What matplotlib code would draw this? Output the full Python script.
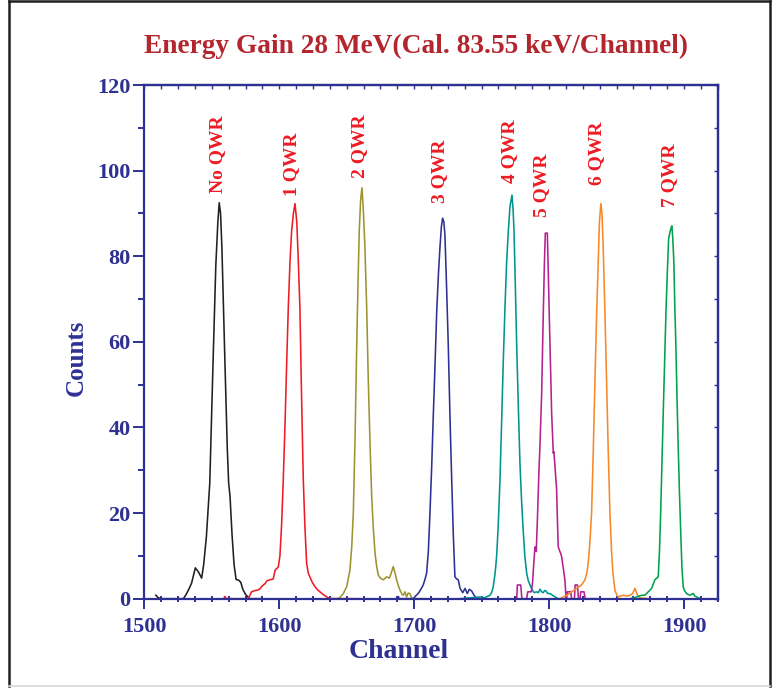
import matplotlib.pyplot as plt
from matplotlib.lines import Line2D
from matplotlib.ticker import MultipleLocator

# spectra: channel / counts pairs for each QWR setting
chNo = [1508.5, 1510, 1512, 1529, 1531, 1533, 1535, 1537.8, 1540, 1542.5, 1544, 1546, 1548.5, 1551,
        1553, 1554.5, 1555.5, 1556.5, 1557.5, 1559.5, 1561.5, 1562.5, 1563.5, 1565, 1566.5, 1568,
        1570, 1571.5, 1573, 1575, 1578, 1587]
cntNo = [0.8, 0.3, 0, 0, 1, 2.2, 3.6, 7.2, 6.3, 4.8, 8, 14.5, 27, 56,
         78, 88, 92.5, 90, 82, 58, 35, 27, 24, 15, 8, 4.5,
         4.3, 3.8, 2.2, 1, 0, 0]

ch1 = [1559, 1559.5, 1561, 1577, 1579.5, 1582, 1584, 1585.7, 1587.5, 1589.4, 1591, 1593, 1595.5,
       1597, 1599.3, 1600.5, 1601.8, 1603, 1604.3, 1605.5, 1606.7, 1608, 1609.2, 1610.5, 1611.7,
       1613, 1614, 1615.3, 1616.5, 1617.8, 1619, 1620.3, 1621.5, 1622.8, 1624.5, 1626.5, 1628,
       1630.2, 1632.5, 1635.2, 1637.7, 1660]
cnt1 = [0, 0.5, 0, 0, 1.6, 1.9, 2.0, 2.3, 3, 3.5, 4.2, 4.4, 4.6,
        6.7, 7.4, 10, 17.6, 28, 41, 55, 68, 79, 86, 90, 92.3,
        88, 80, 68, 48, 28, 17, 8.3, 6, 5, 3.8, 2.8, 2.2,
        1.6, 1, 0.4, 0, 0]

ch2 = [1637.5, 1643, 1645, 1647.5, 1650, 1652.4, 1653.7, 1654.9, 1656.2, 1657.4, 1658.4, 1659.3,
       1660.3, 1661.3, 1662.3, 1663.5, 1664.8, 1666, 1667.3, 1668.5, 1669.8, 1671, 1672.2, 1673.4,
       1675, 1677.1, 1678.5, 1679.6, 1681.6, 1683, 1684.5, 1685.8, 1687, 1688.3, 1689.5, 1691,
       1691.9, 1693.2, 1694.4, 1695.5, 1696.9, 1698, 1699.3, 1709]
cnt2 = [0, 0, 0.3, 1.2, 2.8, 6.7, 12, 20, 38, 59, 74, 86,
        93, 96, 91, 82, 68, 51, 36, 24, 16, 10.6, 7.5, 5.5,
        4.8, 4.4, 4.8, 5.1, 4.8, 6, 7.5, 6, 4.4, 3, 2, 1,
        0.8, 1.6, 0.4, 1.3, 1.2, 0.2, 0, 0]

ch3 = [1687.5, 1688.3, 1689, 1699.3, 1701, 1703, 1705, 1706.7, 1708, 1709.2, 1710.5, 1711.7, 1713,
       1714.2, 1715.5, 1716.7, 1718, 1719.1, 1720.2, 1721.1, 1722, 1722.8, 1724, 1725.3, 1726.5,
       1727.8, 1729, 1730.2, 1731.5, 1732.7, 1734, 1736, 1737.7, 1739.4, 1740.9, 1742.6, 1744.4,
       1746.5, 1750]
cnt3 = [0, 0.5, 0, 0, 0.6, 1.2, 2.2, 3.2, 4.5, 5.9, 11, 20, 31,
        43, 55, 67, 76, 82, 87, 88.9, 88, 85, 73, 59, 43,
        28, 15, 5.1, 4.6, 4.4, 2.4, 1.4, 2.4, 1.2, 2.2, 1.8, 0.8,
        0, 0]

ch4 = [1734, 1748.8, 1752, 1756.2, 1757.5, 1758.6, 1760, 1761.1, 1762.3, 1763.6, 1764.8, 1766,
       1767.3, 1768.5, 1769.8, 1771, 1772.5, 1773.3, 1774, 1775, 1776, 1777.2, 1778.4, 1779.6,
       1780.8, 1782, 1783.4, 1784.6, 1785.8, 1787.6, 1789, 1790.8, 1792, 1793.3, 1794.5, 1795.7,
       1796.7, 1797.7, 1799, 1800.7, 1802.5, 1804.4, 1806.8, 1815.5]
cnt4 = [0, 0.4, 0.2, 0.8, 1.5, 2.8, 6, 9.8, 17, 27.7, 41, 55,
        68, 78.4, 86, 91.6, 94.3, 91, 86, 73, 59, 45, 31.6, 23,
        16, 10, 5.9, 4.2, 3.2, 2, 1.4, 1.6, 1.4, 2.2, 1.6, 1.4,
        1.9, 1.8, 1.2, 1.2, 0.8, 0.4, 0, 0]

ch5 = [1774.7, 1776, 1776.5, 1779, 1779.8, 1783.4, 1784.2, 1786.8, 1787.8, 1788.5, 1789.5, 1790,
       1790.5, 1791.5, 1792.5, 1793.2, 1794.5, 1795.7, 1796.5, 1797.2, 1798.7, 1799.5, 1800.1,
       1801, 1801.9, 1802.6, 1803.1, 1803.5, 1803.9, 1804.8, 1805.6, 1806.2, 1806.8, 1808, 1808.6,
       1809.3, 1810.5, 1811.7, 1812.5, 1813, 1813.5, 1816, 1816.7, 1818.8, 1819.3, 1821, 1821.8,
       1823, 1823.4, 1825.9, 1826.7, 1835]
cnt5 = [0, 0, 3.2, 3.2, 0, 0, 1.6, 1.6, 4, 7.5, 12, 12.1,
        11, 20, 30, 35.5, 48, 66.7, 78, 85.4, 85.4, 75, 66.7,
        55, 43.3, 38, 34, 34.4, 32.9, 29, 25.4, 18, 12.1, 11, 10.6,
        9.8, 7.2, 4.4, 0.5, 0, 1.6, 1.6, 0, 0, 3.2, 3.2, 0,
        0, 1.6, 1.6, 0, 0]

ch6 = [1808, 1813, 1816.7, 1820.4, 1824.1, 1826.6, 1828, 1829, 1830.2, 1831.5, 1832.7, 1834, 1835.2,
       1836.4, 1837.3, 1838.4, 1839.2, 1840.1, 1841.3, 1842.6, 1843.8, 1845.1, 1846.3, 1847.3,
       1848.8, 1850, 1851.3, 1853, 1855, 1858, 1860, 1861.9, 1863.6, 1865.6, 1867.3, 1873.5]
cnt6 = [0, 0.8, 1.6, 2.4, 3.2, 4.4, 6, 8.3, 13, 20, 34, 51, 66,
        78.4, 88, 92.3, 90, 82, 68, 51, 35, 20, 11, 6,
        2, 1, 0.4, 0.6, 0.8, 0.6, 0.8, 1.2, 2.4, 0.8, 0.2, 0]

ch7 = [1860, 1865, 1868.6, 1871, 1873.5, 1876, 1878.4, 1880.9, 1881.8, 1882.7, 1883.6, 1884.6,
       1885.6, 1886.6, 1887.6, 1888.6, 1889.5, 1890.3, 1891, 1891.7, 1892.5, 1893.2, 1894, 1894.8,
       1895.7, 1896.6, 1897.5, 1898.5, 1899.4, 1900.5, 1901.9, 1903, 1904.4, 1905.5, 1906.9, 1908,
       1909.4, 1911.8]
cnt7 = [0, 0.4, 0.8, 0.8, 1.6, 2.4, 4.4, 5.1, 11, 20, 31, 43.3,
        55, 66.7, 76, 84, 85.5, 86.5, 87.1, 84, 78.4, 68, 58.9, 47,
        35.5, 25, 16.1, 7, 2.8, 1.8, 1.2, 1, 0.8, 1, 1.2, 0.6,
        0.4, 0]

spectra = [(chNo, cntNo), (ch1, cnt1), (ch2, cnt2), (ch3, cnt3),
           (ch4, cnt4), (ch5, cnt5), (ch6, cnt6), (ch7, cnt7)]
lineColors = ["#231F20", "#ED1C24", "#9C9431", "#2E3192",
              "#00958F", "#B5218E", "#F7882A", "#00A24F"]

peakLabels = ["No QWR", "1 QWR", "2 QWR", "3 QWR", "4 QWR", "5 QWR", "6 QWR", "7 QWR"]
labelX = [1554, 1609.4, 1659.8, 1719.1, 1771, 1794.7, 1835.5, 1889.5]
labelY = [94.8, 94.1, 98.3, 92.5, 97.1, 89.2, 96.7, 91.5]

axisBlue = "#2E3192"
titleRed = "#B3262E"
labelRed = "#ED1C24"
serif = "Liberation Serif"

fig = plt.figure(figsize=(7.81, 6.89), dpi=100)
ax = fig.add_axes([0.1848, 0.1311, 0.7342, 0.7455])

for (x, y), c in zip(spectra, lineColors):
    ax.plot(x, y, color=c, linewidth=1.15)

for txt, x, y in zip(peakLabels, labelX, labelY):
    ax.text(x, y, txt, rotation=90, ha="center", va="bottom", color=labelRed,
            fontsize=14, fontweight="bold", family=serif)

ax.set_xlim(1500, 1925)
ax.set_ylim(0, 120)

ax.xaxis.set_major_locator(MultipleLocator(100))
ax.xaxis.set_minor_locator(MultipleLocator(12.5))
ax.yaxis.set_major_locator(MultipleLocator(20))
ax.yaxis.set_minor_locator(MultipleLocator(10))

for s in ax.spines.values():
    s.set_color(axisBlue)
    s.set_linewidth(1.6)

ax.tick_params(axis="both", which="both", colors=axisBlue, width=1.4, labelcolor=axisBlue,
               labelsize=16)
ax.tick_params(axis="x", which="major", direction="out", length=7, pad=6)
ax.tick_params(axis="x", which="minor", direction="inout", length=4)
ax.tick_params(axis="y", which="major", direction="out", length=8, pad=2)
ax.tick_params(axis="y", which="minor", direction="out", length=4)

for lbl in ax.get_xticklabels() + ax.get_yticklabels():
    lbl.set_family(serif)
    lbl.set_fontweight("bold")

# inward ticks along the top and right frame
topAx = ax.secondary_xaxis("top")
topAx.xaxis.set_major_locator(MultipleLocator(12.5))
topAx.tick_params(direction="in", length=3, width=1, colors=axisBlue, labeltop=False)
topAx.spines["top"].set_color(axisBlue)
topAx.spines["top"].set_linewidth(1.6)

rightAx = ax.secondary_yaxis("right")
rightAx.yaxis.set_major_locator(MultipleLocator(10))
rightAx.tick_params(direction="in", length=3, width=1, colors=axisBlue, labelright=False)
rightAx.spines["right"].set_color(axisBlue)
rightAx.spines["right"].set_linewidth(1.6)

fig.text(0.533, 0.933, "Energy Gain 28 MeV(Cal. 83.55 keV/Channel)", ha="center", va="center",
         color=titleRed, fontsize=19.7, fontweight="bold", family=serif)
fig.text(0.51, 0.054, "Channel", ha="center", va="center", color=axisBlue,
         fontsize=20, fontweight="bold", family=serif)
fig.text(0.097, 0.481, "Counts", ha="center", va="center", rotation=90, color=axisBlue,
         fontsize=18, fontweight="bold", family=serif)

# page frame
fig.add_artist(Line2D([0.011, 0.011], [0.004, 0.998], transform=fig.transFigure,
                      color="#231F20", linewidth=1.8))
fig.add_artist(Line2D([0.011, 0.986], [0.998, 0.998], transform=fig.transFigure,
                      color="#231F20", linewidth=1.8))
fig.add_artist(Line2D([0.986, 0.986], [0.004, 0.998], transform=fig.transFigure,
                      color="#231F20", linewidth=1.8))
fig.add_artist(Line2D([0.011, 0.986], [0.004, 0.004], transform=fig.transFigure,
                      color="#D8D8D8", linewidth=1.2))

fig.savefig("out.png", dpi=100)
